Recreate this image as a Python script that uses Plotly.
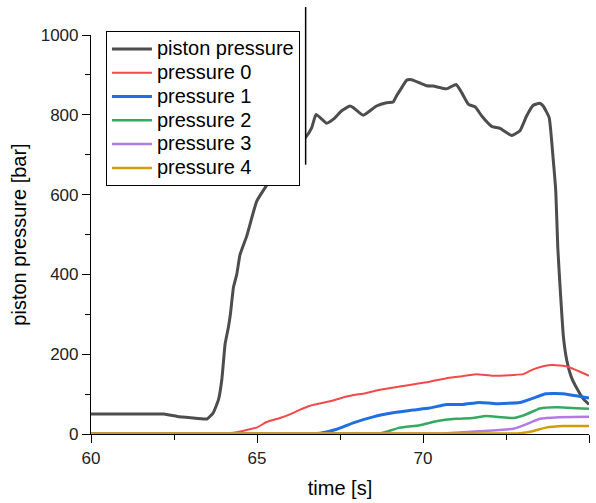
import plotly.graph_objects as go

# Piston pressure trace
t_piston = [60.0, 61.0, 62.2, 62.6, 63.0, 63.5, 63.68, 63.84, 63.94, 64.04, 64.14, 64.2, 64.29,
            64.39, 64.49, 64.69, 64.99, 65.29, 65.6, 66.0, 66.47, 66.65, 66.78, 67.1, 67.3, 67.55,
            67.8, 67.9, 68.2, 68.6, 68.9, 69.1, 69.2, 69.36, 69.51, 69.66, 70.11, 70.31, 70.71,
            71.0, 71.17, 71.37, 71.57, 71.77, 72.07, 72.32, 72.67, 72.92, 73.12, 73.32, 73.52,
            73.62, 73.8, 73.92, 74.0, 74.06, 74.13, 74.23, 74.33, 74.48, 74.63, 74.83, 75.0]
p_piston = [50, 50, 50, 44, 41, 38, 53, 86, 136, 226, 268, 301, 367,
            400, 450, 496, 583, 623, 660, 705, 744, 768, 801, 779, 789, 810,
            822, 818, 799, 822, 830, 832, 847, 868, 887, 888, 873, 872, 865,
            876, 855, 826, 820, 797, 771, 766, 748, 760, 797, 824, 829,
            822, 793, 690, 607, 467, 367, 243, 185, 140, 115, 88, 74]

# Sensor pressures 0..4
t_p0 = [60.0, 64.0, 64.29, 64.69, 64.99, 65.29, 65.69, 65.99, 66.3, 66.6, 67.2, 67.7, 68.3, 68.7,
        69.3, 69.9, 70.2, 70.71, 71.1, 71.6, 72.1, 72.72, 73.02, 73.32, 73.62, 73.92, 74.33,
        74.73, 75.0]
p_p0 = [2, 2, 3, 10, 16, 30, 40, 49, 61, 71, 82, 94, 103, 111,
        119, 127, 131, 140, 144, 150, 146, 148, 150, 162, 170, 173, 169,
        156, 146]

t_p1 = [60.0, 66.6, 66.9, 67.4, 67.9, 68.5, 69.1, 69.7, 70.2, 70.71, 71.2, 71.7, 72.2, 72.92,
        73.32, 73.7, 74.23, 74.73, 75.0]
p_p1 = [1, 1, 2, 12, 28, 43, 53, 60, 65, 74, 74, 79, 76, 79,
        90, 101, 101, 94, 90]

t_p2 = [60.0, 68.6, 68.8, 69.3, 69.9, 70.4, 71.0, 71.5, 71.9, 72.72, 73.1, 73.52, 74.03, 75.0]
p_p2 = [1, 1, 3, 16, 22, 32, 38, 40, 45, 40, 49, 64, 67, 63]

t_p3 = [60.0, 70.5, 70.7, 71.7, 72.72, 73.1, 73.52, 74.1, 75.0]
p_p3 = [1, 1, 2, 7, 13, 24, 38, 42, 43]

t_p4 = [60.0, 72.8, 72.92, 73.3, 73.7, 74.23, 75.0]
p_p4 = [1, 1, 2, 7, 16, 20, 20]

series = [
    ("piston pressure", t_piston, p_piston, "#4d4d4d", 3),
    ("pressure 0", t_p0, p_p0, "#f04a4a", 2),
    ("pressure 1", t_p1, p_p1, "#1f6fe0", 3),
    ("pressure 2", t_p2, p_p2, "#35a862", 2.5),
    ("pressure 3", t_p3, p_p3, "#b27ae6", 2.5),
    ("pressure 4", t_p4, p_p4, "#d09c0a", 2.5),
]

font_family = "Liberation Sans, Arial, sans-serif"
legend_text_px = 20

fig = go.Figure()
for name, t, p, color, width in series:
    fig.add_trace(go.Scatter(
        x=t, y=p, mode="lines",
        name=f"<span style='font-size:{legend_text_px}px'>{name}</span>",
        line=dict(color=color, width=width, shape="spline", smoothing=0.4)))

axis_common = dict(
    showline=True, linecolor="#000000", linewidth=1.2,
    ticks="outside", ticklen=8, tickwidth=1.2, tickcolor="#000000",
    showgrid=False, zeroline=False, mirror=False,
    tickfont=dict(family=font_family, size=17, color="#222222"),
    minor=dict(ticks="outside", ticklen=5, tickwidth=1.2, tickcolor="#000000", showgrid=False),
)
title_font = dict(family=font_family, size=20, color="#000000")

fig.update_layout(
    width=596, height=503,
    margin=dict(l=91, r=7, t=35, b=65),
    paper_bgcolor="white", plot_bgcolor="white",
    showlegend=True,
    legend=dict(
        x=0.03, y=1.01, xanchor="left", yanchor="top",
        bgcolor="white", bordercolor="#000000", borderwidth=1,
        itemwidth=40,
        font=dict(family=font_family, size=16, color="#000000"),
    ),
    xaxis=dict(range=[60, 75], tickmode="array", tickvals=[60, 65, 70, 75],
               title=dict(text="time [s]", font=title_font, standoff=14),
               **axis_common),
    yaxis=dict(range=[0, 1000], tickmode="array", tickvals=[0, 200, 400, 600, 800, 1000],
               title=dict(text="piston pressure [bar]", font=title_font, standoff=8),
               **axis_common),
)
fig.update_xaxes(minor=dict(tickvals=[62.5, 67.5, 72.5]))
fig.update_yaxes(minor=dict(tickvals=[100, 300, 500, 700, 900]))

# White panel beside the legend, closed by a thin vertical divider
fig.add_shape(type="rect", xref="paper", yref="paper", x0=0.36, x1=0.431, y0=0.675, y1=1.07,
              fillcolor="white", line=dict(width=0), layer="above")
fig.add_shape(type="line", xref="paper", yref="paper", x0=0.431, x1=0.431, y0=0.675, y1=1.07,
              line=dict(color="#000000", width=1.5), layer="above")

fig.write_html("out.html")
